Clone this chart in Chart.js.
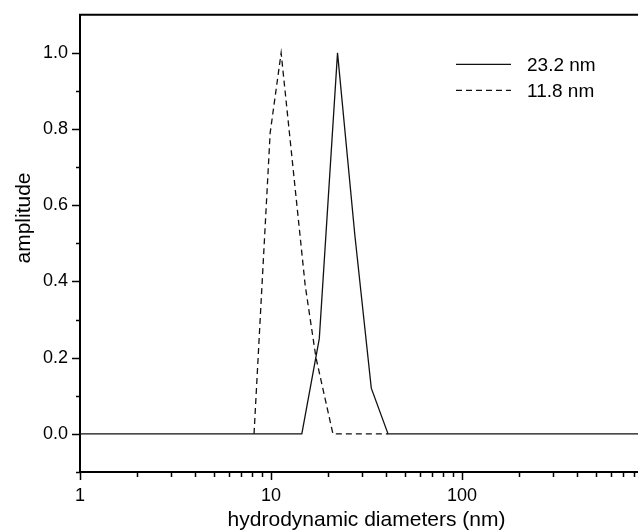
<!DOCTYPE html>
<html>
<head>
<meta charset="utf-8">
<script src="https://cdn.jsdelivr.net/npm/chart.js@4.4.1/dist/chart.umd.min.js"></script>
<style>
  body{margin:0;background:#fff;}
  .frame{width:638px;height:530px;overflow:hidden;}
  .box{width:680px;height:530px;}
</style>
</head>
<body>
<div class="frame"><div class="box"><canvas id="dls"></canvas></div></div>
<script>
// size distributions (diameter in nm, amplitude)
const big_d   = [1, 14.5, 17.9, 22.3, 27.5, 33.5, 41, 1000];
const big_amp = [0, 0, 0.25, 1.0, 0.52, 0.12, 0, 0];
const small_d   = [8.15, 9.9, 11.3, 15.1, 17.2, 21.1, 41];
const small_amp = [0, 0.79, 1.0, 0.39, 0.20, 0, 0];
const seriesLabels = ['23.2 nm', '11.8 nm'];
const xTicks = [1,2,3,4,5,6,7,8,9,10,20,30,40,50,60,70,80,90,100,200,300,400,500,600,700,800,900,1000];

const font = 'Arial, "Liberation Sans", Helvetica, sans-serif';
const toPts = (xs, ys) => xs.map((x, i) => ({x: x, y: ys[i]}));
const isDecade = v => Math.abs(Math.log10(v) - Math.round(Math.log10(v))) < 1e-9;
const isEvenTenth = v => Math.round(v * 10) % 2 === 0;

// tick marks (long/short), top frame line, y title and the inset legend
const decor = {
  id: 'decor',
  afterDraw(chart){
    const {ctx, chartArea: a, scales: {x, y}} = chart;
    ctx.save();
    ctx.strokeStyle = '#000'; ctx.lineWidth = 1.5;
    ctx.beginPath();
    x.ticks.forEach(t => {
      const px = Math.round(x.getPixelForValue(t.value)) + 0.5;
      const len = isDecade(t.value) ? 8 : 5;
      ctx.moveTo(px, a.bottom); ctx.lineTo(px, a.bottom + len);
    });
    y.ticks.forEach(t => {
      if (t.value > 1.05) return;
      const py = Math.round(y.getPixelForValue(t.value)) + 0.5;
      const len = isEvenTenth(t.value) ? 8 : 4;
      ctx.moveTo(a.left - len, py); ctx.lineTo(a.left, py);
    });
    ctx.stroke();
    ctx.lineWidth = 2;
    ctx.beginPath();
    ctx.moveTo(a.left - 1, a.top); ctx.lineTo(a.right, a.top); ctx.lineTo(a.right, a.bottom);
    ctx.stroke();

    // y axis title
    ctx.fillStyle = '#000';
    ctx.font = '21px ' + font;
    ctx.translate(24, 218);
    ctx.rotate(-Math.PI / 2);
    ctx.textAlign = 'center'; ctx.textBaseline = 'middle';
    ctx.fillText(y.options.title.text, 0, 0);
    ctx.restore();

    // legend
    ctx.save();
    ctx.font = '19px ' + font;
    ctx.textBaseline = 'middle';
    chart.data.datasets.forEach((ds, i) => {
      const ly = a.top + 49 + i * 26;
      ctx.strokeStyle = ds.borderColor; ctx.lineWidth = ds.borderWidth;
      ctx.setLineDash(ds.borderDash || []);
      ctx.beginPath(); ctx.moveTo(a.left + 376, ly + 0.5); ctx.lineTo(a.left + 431, ly + 0.5); ctx.stroke();
      ctx.fillStyle = '#000';
      ctx.fillText(ds.label, a.left + 447, ly + 2);
    });
    ctx.restore();
  }
};

new Chart(document.getElementById('dls'), {
  type: 'line',
  data: {
    datasets: [
      {label: seriesLabels[0], data: toPts(big_d, big_amp), borderColor: '#111', borderWidth: 1.3,
       pointRadius: 0, tension: 0, fill: false},
      {label: seriesLabels[1], data: toPts(small_d, small_amp), borderColor: '#111', borderWidth: 1.3,
       borderDash: [6, 4], pointRadius: 0, tension: 0, fill: false}
    ]
  },
  options: {
    responsive: true, maintainAspectRatio: false, animation: false,
    layout: {padding: {top: 4, right: 27, left: 0, bottom: 0}},
    plugins: {legend: {display: false}, tooltip: {enabled: false}},
    scales: {
      x: {
        type: 'logarithmic', min: 1, max: 1000,
        afterBuildTicks: s => { s.ticks = xTicks.map(v => ({value: v, major: isDecade(v)})); },
        afterFit: s => { s.height = 58; },
        grid: {display: false},
        border: {display: true, color: '#000', width: 2},
        ticks: {autoSkip: false, maxRotation: 0, padding: 5, color: '#000',
                font: {family: font, size: 18},
                callback: v => (isDecade(v) && v < 1000) ? String(v) : ''},
        title: {display: true, text: 'hydrodynamic diameters (nm)', color: '#000',
                font: {family: font, size: 21}, padding: {top: 0, bottom: -3}}
      },
      y: {
        min: -0.1, max: 1.1,
        afterFit: s => { s.width = 80; },
        grid: {display: false},
        border: {display: true, color: '#000', width: 2},
        ticks: {stepSize: 0.1, padding: 4, color: '#000', font: {family: font, size: 18},
                callback: v => (isEvenTenth(v) && v > -0.05 && v < 1.05) ? v.toFixed(1) : ''},
        title: {display: false, text: 'amplitude'}
      }
    }
  },
  plugins: [decor]
});
</script>
</body>
</html>
